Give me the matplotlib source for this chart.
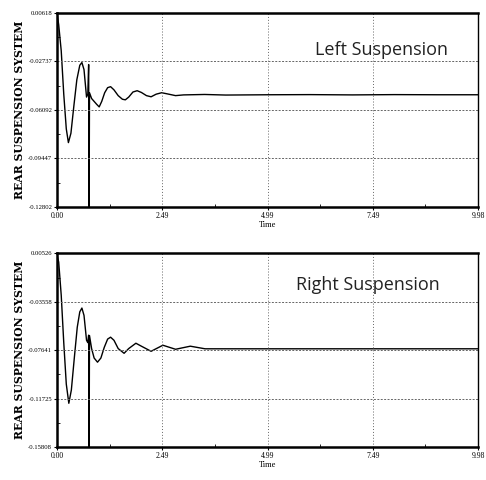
import matplotlib.pyplot as plt
from matplotlib.ticker import FixedLocator

# left suspension response
t_left = [0.00, 0.04, 0.10, 0.16, 0.22, 0.27, 0.33, 0.40, 0.47, 0.54, 0.59, 0.64,
          0.70, 0.73, 0.75, 0.76, 0.77, 0.82, 0.88, 0.94, 1.00, 1.06, 1.13, 1.20,
          1.27, 1.35, 1.45, 1.55, 1.62, 1.70, 1.80, 1.90, 2.00, 2.12, 2.23, 2.35,
          2.48, 2.60, 2.81, 3.00, 3.50, 4.00, 5.00, 6.00, 7.00, 8.00, 9.00, 9.98]
v_left = [0.0060, -0.0020, -0.0200, -0.0500, -0.0740, -0.0835, -0.0770, -0.0580,
          -0.0400, -0.0300, -0.0281, -0.0330, -0.0520, -0.0500, -0.0295, -0.1350,
          -0.0490, -0.0530, -0.0550, -0.0570, -0.0588, -0.0550, -0.0490, -0.0455,
          -0.0448, -0.0470, -0.0510, -0.0535, -0.0539, -0.0520, -0.0485, -0.0476,
          -0.0488, -0.0510, -0.0518, -0.0500, -0.0490, -0.0497, -0.0510, -0.0505,
          -0.0502, -0.0506, -0.0504, -0.0503, -0.0505, -0.0503, -0.0504, -0.0504]

# right suspension response
t_right = [0.00, 0.04, 0.10, 0.16, 0.22, 0.28, 0.34, 0.41, 0.48, 0.54, 0.59, 0.64,
           0.70, 0.73, 0.75, 0.76, 0.77, 0.82, 0.88, 0.96, 1.04, 1.12, 1.20, 1.27,
           1.35, 1.45, 1.59, 1.70, 1.87, 2.00, 2.23, 2.51, 2.81, 3.16, 3.51, 9.98]
v_right = [0.0040, -0.0020, -0.0300, -0.0700, -0.1050, -0.1212, -0.1100, -0.0830,
           -0.0570, -0.0440, -0.0408, -0.0470, -0.0680, -0.0700, -0.0637, -0.1700,
           -0.0640, -0.0750, -0.0830, -0.0865, -0.0830, -0.0740, -0.0670, -0.0654,
           -0.0680, -0.0750, -0.0790, -0.0750, -0.0705, -0.0730, -0.0773, -0.0722,
           -0.0756, -0.0730, -0.0752, -0.0752]

x_ticks = [0.00, 2.49, 4.99, 7.49, 9.98]
x_minor = [1.25, 3.74, 6.24, 8.73]
y_ticks_left = [-0.12802, -0.09447, -0.06092, -0.02737, 0.00618]
y_ticks_right = [-0.15808, -0.11725, -0.07641, -0.03558, 0.00526]

panels = [
    (t_left, v_left, y_ticks_left, "Left Suspension", (0.1173, 0.5688, 0.8663, 0.4042), (0.613, 0.81)),
    (t_right, v_right, y_ticks_right, "Right Suspension", (0.1173, 0.0688, 0.8663, 0.4031), (0.568, 0.835)),
]

fig = plt.figure(figsize=(4.86, 4.80), dpi=100)
serif = "Liberation Serif"

for t, v, yt, title, rect, tpos in panels:
    ax = fig.add_axes(rect)
    ax.plot(t, v, color="black", lw=1.0)
    ax.set_xlim(x_ticks[0], x_ticks[-1])
    ax.set_ylim(yt[0], yt[-1])

    ax.set_xticks(x_ticks)
    ax.set_xticklabels(["%.2f" % x for x in x_ticks], fontsize=5.5, family=serif)
    ax.xaxis.set_minor_locator(FixedLocator(x_minor))
    ax.set_yticks(yt)
    ax.set_yticklabels(["%.5f" % y for y in yt], fontsize=4.8, family=serif)
    ymid = [(yt[i] + yt[i + 1]) / 2 for i in range(len(yt) - 1)]
    ax.yaxis.set_minor_locator(FixedLocator(ymid))

    ax.tick_params(axis="both", which="major", length=2, width=0.8, pad=1.5)
    ax.tick_params(axis="both", which="minor", direction="in", length=2, width=0.6)

    for x in x_ticks[1:-1]:
        ax.axvline(x, color="#666666", lw=0.7, ls=(0, (1, 2)))
    for y in yt[1:-1]:
        ax.axhline(y, color="#666666", lw=0.7, ls=(0, (2, 1.5)))

    for side in ["top", "bottom", "left"]:
        ax.spines[side].set_linewidth(1.8)
    ax.spines["right"].set_linewidth(1.0)

    ax.set_xlabel("Time", fontsize=6, family=serif, labelpad=1)
    ax.set_ylabel("REAR SUSPENSION SYSTEM", fontsize=7.8, family="DejaVu Serif",
                  fontweight="bold", labelpad=2)
    ax.text(tpos[0], tpos[1], title, transform=ax.transAxes, fontsize=13,
            family="Open Sans", color="#222222", va="center")

fig.savefig("out.png", dpi=100)
